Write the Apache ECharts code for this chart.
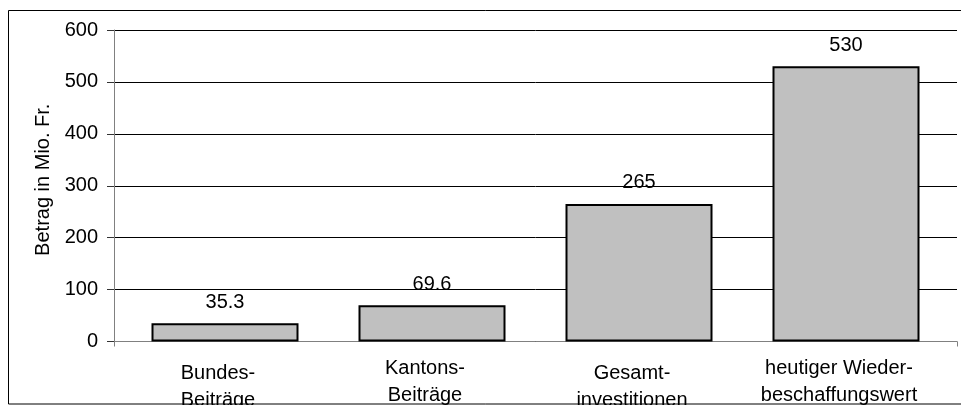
<!DOCTYPE html>
<html>
<head>
<meta charset="utf-8">
<script src="https://cdn.jsdelivr.net/npm/echarts@6/dist/echarts.min.js"></script>
<style>
  html, body { margin: 0; padding: 0; background: #fff; }
  #main { width: 961px; height: 405px; }
</style>
</head>
<body>
<div id="main"></div>
<script>
const categories = [
  'Bundes-\nBeiträge',
  'Kantons-\nBeiträge',
  'Gesamt-\ninvestitionen',
  'heutiger Wieder-\nbeschaffungswert'
];
const values = [35.3, 69.6, 265, 530];
const yTicks = [0, 100, 200, 300, 400, 500, 600];

const font = 'Liberation Sans, Arial, sans-serif';

// Excel staggers the labels: first and third sit a bit lower
const lowered = [true, false, true, false];

const chart = echarts.init(document.getElementById('main'), null, { renderer: 'canvas' });

chart.setOption({
  animation: false,
  textStyle: { fontFamily: font },
  graphic: [
    {
      type: 'rect',
      z: 100,
      shape: { x: 8.5, y: 10.5, width: 1000, height: 393.5 },
      style: { fill: 'none', stroke: '#000', lineWidth: 1 }
    }
  ],
  grid: [
    // axes & gridlines
    { left: 114, right: 4, top: 30, height: 311.5, outerBoundsMode: 'none', containLabel: false },
    // bars (Excel draws them a few px right of the labels)
    { left: 121.5, width: 828, top: 30, height: 311.5, outerBoundsMode: 'none', containLabel: false }
  ],
  xAxis: [
    {
      gridIndex: 0,
      type: 'value',
      min: 0,
      max: 1,
      interval: 1,
      axisLine: { show: true, lineStyle: { color: '#808080', width: 1 } },
      axisTick: { show: true, length: 5, lineStyle: { color: '#808080' } },
      axisLabel: { show: false },
      splitLine: { show: false }
    },
    {
      gridIndex: 1,
      type: 'category',
      data: categories.map((c, i) => ({
        value: c,
        textStyle: { padding: lowered[i] ? [5, 14, 0, 0] : [0, 14, 0, 0] }
      })),
      axisLine: { show: false },
      axisTick: { show: false },
      axisLabel: {
        interval: 0,
        margin: 13,
        fontSize: 20,
        lineHeight: 27,
        color: '#000',
        fontFamily: font
      }
    }
  ],
  yAxis: [
    {
      gridIndex: 0,
      type: 'value',
      min: yTicks[0],
      max: yTicks[yTicks.length - 1],
      interval: 100,
      name: 'Betrag in Mio. Fr.',
      nameLocation: 'middle',
      nameGap: 58,
      nameTextStyle: {
        fontSize: 20,
        color: '#000',
        fontFamily: font,
        padding: [0, 0, 0, 12]
      },
      axisLine: { show: true, lineStyle: { color: '#808080', width: 1 } },
      axisTick: { show: true, length: 7, lineStyle: { color: '#333' } },
      axisLabel: { fontSize: 20, color: '#000', margin: 16, fontFamily: font },
      splitLine: { show: true, lineStyle: { color: '#000', width: 1 } }
    },
    {
      gridIndex: 1,
      type: 'value',
      min: yTicks[0],
      max: yTicks[yTicks.length - 1],
      show: false
    }
  ],
  series: [
    {
      type: 'bar',
      xAxisIndex: 1,
      yAxisIndex: 1,
      data: values,
      barWidth: 147,
      itemStyle: { color: '#c0c0c0', borderColor: '#000', borderWidth: 2 },
      label: {
        show: true,
        position: 'top',
        distance: 11,
        fontSize: 20,
        color: '#000',
        fontFamily: font
      }
    }
  ]
});
</script>
</body>
</html>
